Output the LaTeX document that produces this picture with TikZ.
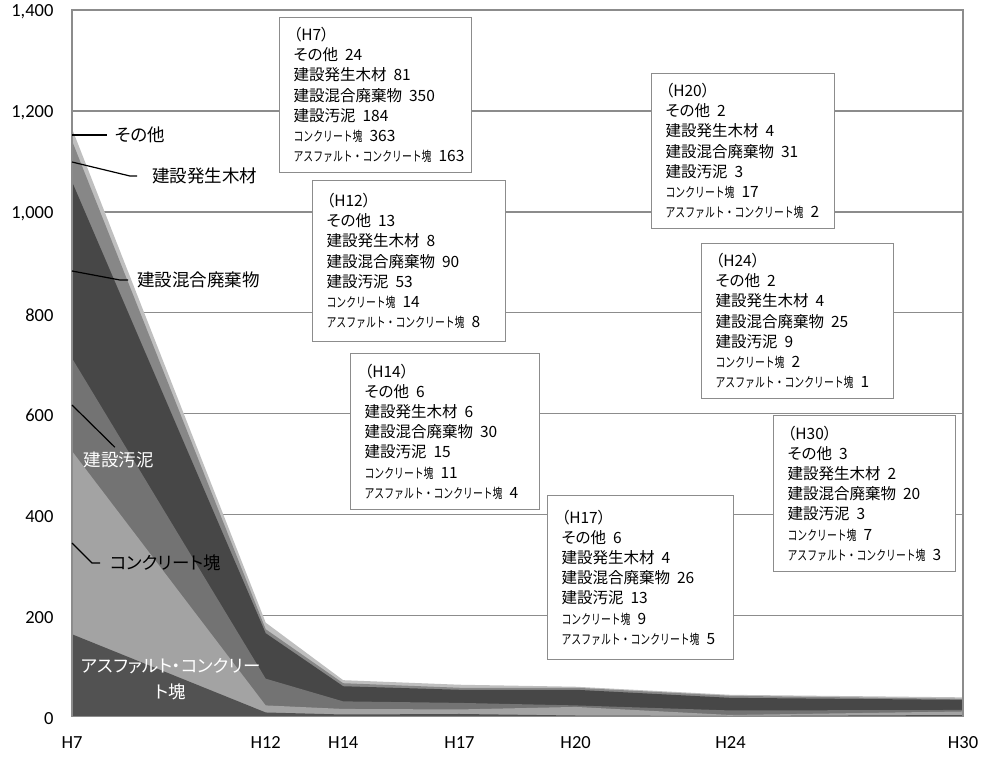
\documentclass[tikz,border=0pt]{standalone}
\usepackage{fontspec}
\setmainfont{Noto Sans CJK JP}[RawFeature=+palt]
\newfontfamily\schmaljp{Noto Sans CJK JP}[FakeStretch=0.73]
\newfontfamily\achsenfont{Carlito}
\definecolor{rahmen}{HTML}{8C8C8C}
\definecolor{sonota}{HTML}{BFBFBF}
\definecolor{mokuzai}{HTML}{878787}
\definecolor{kongo}{HTML}{474747}
\definecolor{odei}{HTML}{737373}
\definecolor{kon}{HTML}{A3A3A3}
\definecolor{asu}{HTML}{525252}
\newcommand{\kleinjp}{\schmaljp\fontsize{13.5}{20.2}\selectfont}
\newcommand{\abst}{\nobreak\hspace{0.45em}}
\newcommand{\inhalt}[7]{（#1）\\その他\abst#2\\建設発生木材\abst#3\\建設混合廃棄物\abst#4\\建設汚泥\abst#5\\{\kleinjp コンクリート塊}\abst#6\\{\kleinjp アスファルト・コンクリート塊}\abst#7}
\tikzset{
    %Define style for data boxes
    kasten/.style={
           rectangle,
           draw=rahmen, line width=1.2pt,
           fill=white,
           anchor=north west,
           inner xsep=14pt, inner ysep=0pt,
           align=left,
           font=\fontsize{15.5}{20.2}\selectfont},
    % Define style for series labels
    reihe/.style={
           inner xsep=6pt, inner ysep=1pt,
           anchor=west,
           font=\fontsize{17.5}{26.5}\selectfont},
    % Define leader line style
    zeiger/.style={
           black,
           line width=1.2pt},
    gitter/.style={
           draw=rahmen,
           line width=1.2pt},
    achse/.style={
           font=\achsenfont\fontsize{18.5}{20}\selectfont}
}
\begin{document}
\begin{tikzpicture}[x=1pt,y=-1pt]
\useasboundingbox (0,0) rectangle (984,756);
\begin{scope}[shift={(72,716.5)}, x=38.74pt, y=0.5046pt]
    %grid
    \foreach \v in {200,400,...,1200}
        \draw[gitter] (0,\v) -- (23,\v);
    %stacked areas
    \fill[sonota] (0,0) -- (0,1165) -- (5,186) -- (7,72) -- (10,63) -- (13,59) -- (17,43) -- (23,38) -- (23,0) -- cycle;
    \fill[mokuzai] (0,0) -- (0,1141) -- (5,173) -- (7,66) -- (10,57) -- (13,57) -- (17,41) -- (23,35) -- (23,0) -- cycle;
    \fill[kongo] (0,0) -- (0,1060) -- (5,165) -- (7,60) -- (10,53) -- (13,53) -- (17,37) -- (23,33) -- (23,0) -- cycle;
    \fill[odei] (0,0) -- (0,710) -- (5,75) -- (7,30) -- (10,27) -- (13,22) -- (17,12) -- (23,13) -- (23,0) -- cycle;
    \fill[kon] (0,0) -- (0,526) -- (5,22) -- (7,15) -- (10,14) -- (13,19) -- (17,3) -- (23,10) -- (23,0) -- cycle;
    \fill[asu] (0,0) -- (0,163) -- (5,8) -- (7,4) -- (10,5) -- (13,2) -- (17,1) -- (23,3) -- (23,0) -- cycle;
    %frame
    \draw[gitter] (0,0) rectangle (23,1400);
    %axis labels
    \foreach \v/\t in {0/0,200/200,400/400,600/600,800/800,1000/{1,000},1200/{1,200},1400/{1,400}}
        \node[achse, anchor=east] (y\v) at ([xshift=-15pt,yshift=-2pt]0,\v) {\t};
    \foreach \i/\t in {0/H7,5/H12,7/H14,10/H17,13/H20,17/H24,23/H30}
        \node[achse] (x\t) at ([yshift=-26pt]\i,0) {\t};
\end{scope}
%series labels
\node[reihe] (lblSonota) at (109,135) {その他};
\node[reihe] (lblMokuzai) at (146,176) {建設発生木材};
\node[reihe] (lblKongo) at (131,280) {建設混合廃棄物};
\node[reihe, text=white, anchor=center, inner xsep=1pt] (lblOdei) at (118.5,460) {建設汚泥};
\node[reihe] (lblKon) at (104,563) {コンクリート塊};
\node[reihe, text=white, anchor=center, align=center, inner xsep=1pt] (lblAsu) at (171,679) {アスファルト・コンクリー\\ト塊};
%leader lines
\coordinate (pSonota) at (72,135);
\coordinate (pMokuzai) at (72,162);
\coordinate (pKongo) at (72,271);
\coordinate (pOdei) at (72,405);
\coordinate (pKon) at (72,543);
\draw[zeiger, shorten >=2pt] (pSonota) -- (lblSonota.west);
\draw[zeiger, shorten >=9pt] (pMokuzai) -- (130,176) -- (lblMokuzai.west);
\draw[zeiger, shorten >=3pt] (pKongo) -- (120,280) -- (lblKongo.west);
\draw[zeiger, shorten >=5pt] (pOdei) -- (lblOdei.north);
\draw[zeiger, shorten >=4pt] (pKon) -- (92,563) -- (lblKon.west);
%data boxes
\node[kasten, text width=164pt, minimum height=155pt] (boxH7) at (279,17) {\inhalt{H7}{24}{81}{350}{184}{363}{163}};
\node[kasten, text width=165pt, minimum height=161pt] (boxH12) at (312,180) {\inhalt{H12}{13}{8}{90}{53}{14}{8}};
\node[kasten, text width=161pt, minimum height=156pt] (boxH14) at (350,353) {\inhalt{H14}{6}{6}{30}{15}{11}{4}};
\node[kasten, text width=158pt, minimum height=164pt] (boxH17) at (547,495) {\inhalt{H17}{6}{4}{26}{13}{9}{5}};
\node[kasten, text width=155pt, minimum height=155pt] (boxH20) at (651,73) {\inhalt{H20}{2}{4}{31}{3}{17}{2}};
\node[kasten, text width=164pt, minimum height=155pt] (boxH24) at (701,243) {\inhalt{H24}{2}{4}{25}{9}{2}{1}};
\node[kasten, text width=154pt, minimum height=156pt] (boxH30) at (773,415) {\inhalt{H30}{3}{2}{20}{3}{7}{3}};
\end{tikzpicture}
\end{document}
